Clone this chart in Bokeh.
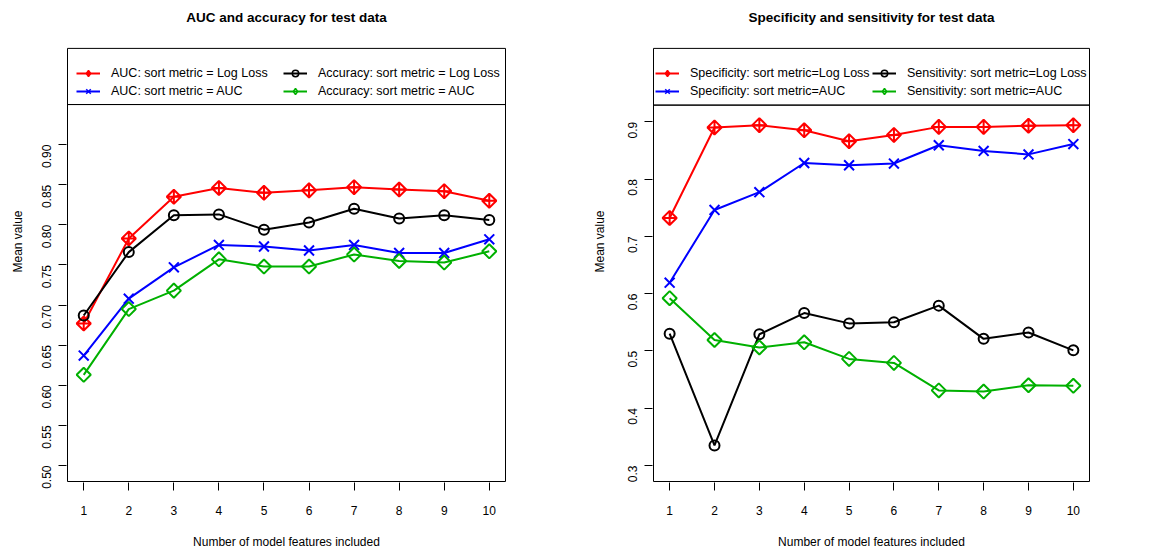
import math
from bokeh.plotting import figure
from bokeh.layouts import row
from bokeh.models import (Range1d, FixedTicker, Legend, LegendItem,
                          NumeralTickFormatter, Label, BoxAnnotation)
from bokeh.embed import file_html
from bokeh.resources import INLINE

# ---- data ----
n_features = [1, 2, 3, 4, 5, 6, 7, 8, 9, 10]

auc_logloss = [0.677, 0.783, 0.835, 0.846, 0.840, 0.843, 0.847, 0.844, 0.842, 0.830]
auc_auc = [0.637, 0.708, 0.747, 0.775, 0.773, 0.768, 0.775, 0.765, 0.765, 0.782]
acc_logloss = [0.687, 0.766, 0.812, 0.813, 0.794, 0.803, 0.820, 0.808, 0.812, 0.806]
acc_auc = [0.613, 0.695, 0.718, 0.757, 0.748, 0.748, 0.763, 0.755, 0.753, 0.767]

spec_logloss = [0.732, 0.890, 0.894, 0.885, 0.866, 0.877, 0.891, 0.891, 0.893, 0.894]
spec_auc = [0.619, 0.746, 0.777, 0.828, 0.824, 0.827, 0.859, 0.849, 0.843, 0.861]
sens_logloss = [0.530, 0.335, 0.529, 0.566, 0.548, 0.550, 0.579, 0.521, 0.532, 0.501]
sens_auc = [0.592, 0.519, 0.506, 0.515, 0.486, 0.479, 0.431, 0.429, 0.440, 0.439]

left_yticks = [0.50, 0.55, 0.60, 0.65, 0.70, 0.75, 0.80, 0.85, 0.90]
right_yticks = [0.3, 0.4, 0.5, 0.6, 0.7, 0.8, 0.9]

left_labels = ["AUC: sort metric = Log Loss", "AUC: sort metric = AUC",
               "Accuracy: sort metric = Log Loss", "Accuracy: sort metric = AUC"]
right_labels = ["Specificity: sort metric=Log Loss", "Specificity: sort metric=AUC",
                "Sensitivity: sort metric=Log Loss", "Sensitivity: sort metric=AUC"]

RED = "#FF0000"
BLUE = "#0000FF"
BLACK = "#000000"
GREEN = "#00B000"
FONT = "Liberation Sans"
NAN = float("nan")

FIG_W, FIG_H = 577, 551
BOX_TOP, BOX_BOTTOM = 48, 482      # canvas px of the plot box
TITLE_Y = 17                        # canvas px of title centre


def make_panel(title, ylo, yhi, yticks, yfmt, sep_y, series, labels,
               box_left, box_right, leg_x1, leg_x2, ylab_standoff):
    xlo, xhi = 0.64, 10.36
    # frame is 1 px larger than the plot box on left/right/bottom and reaches canvas top
    xppu = (box_right - box_left) / (xhi - xlo)
    yppu = (BOX_BOTTOM - BOX_TOP) / (yhi - ylo)
    x_range = Range1d(xlo - 1 / xppu, xhi + 1 / xppu)
    y_range = Range1d(ylo - 1 / yppu, yhi + BOX_TOP / yppu)

    p = figure(width=FIG_W, height=FIG_H, output_backend="svg", toolbar_location=None,
               x_range=x_range, y_range=y_range,
               min_border_left=box_left - 1, min_border_right=FIG_W - box_right - 1,
               min_border_top=0, min_border_bottom=FIG_H - BOX_BOTTOM - 1)
    p.background_fill_color = "white"
    p.border_fill_color = "white"
    p.outline_line_color = None
    p.xgrid.visible = False
    p.ygrid.visible = False

    # plot box
    p.add_layout(BoxAnnotation(left=xlo, right=xhi, bottom=ylo, top=yhi,
                               fill_alpha=0, line_color="black", line_alpha=1, line_width=1))
    # legend separator line
    p.add_layout(BoxAnnotation(left=xlo, right=xhi, bottom=sep_y, top=sep_y,
                               fill_alpha=0, line_color="black", line_alpha=1, line_width=1))

    p.add_layout(Label(x=(xlo + xhi) / 2, y=yhi + (BOX_TOP - TITLE_Y) / yppu,
                       text=title, text_align="center", text_baseline="middle",
                       text_font=FONT, text_font_size="13.5px", text_font_style="bold",
                       text_color="black"))

    for ax in (p.xaxis[0], p.yaxis[0]):
        ax.axis_line_color = None
        ax.major_tick_in = 0
        ax.major_tick_out = 8
        ax.major_tick_line_color = "black"
        ax.minor_tick_line_color = None
        ax.major_label_text_font = FONT
        ax.major_label_text_font_size = "12px"
        ax.major_label_text_color = "black"
        ax.axis_label_text_font = FONT
        ax.axis_label_text_font_size = "12px"
        ax.axis_label_text_font_style = "normal"
        ax.axis_label_text_color = "black"

    p.xaxis.ticker = FixedTicker(ticks=n_features)
    p.xaxis.axis_label = "Number of model features included"
    p.xaxis.major_label_standoff = 15
    p.xaxis.axis_label_standoff = 17

    p.yaxis.ticker = FixedTicker(ticks=yticks)
    p.yaxis.formatter = NumeralTickFormatter(format=yfmt)
    p.yaxis.major_label_orientation = math.pi / 2
    p.yaxis.axis_label = "Mean value"
    p.yaxis.major_label_standoff = 12
    p.yaxis.axis_label_standoff = ylab_standoff

    styles = [
        (RED, "square_x", 10, math.pi / 4, "diamond_cross"),
        (BLUE, "x", 14, 0.0, "x"),
        (BLACK, "circle", 10, 0.0, "circle"),
        (GREEN, "square", 10, math.pi / 4, "diamond"),
    ]
    items = []
    for ys, (col, mk, sz, ang, lmk), lab in zip(series, styles, labels):
        p.line(n_features, ys, line_color=col, line_width=2)
        p.scatter(n_features, ys, marker=mk, size=sz, angle=ang,
                  line_color=col, fill_color=None, line_width=2)
        # legend proxies (NaN data: nothing drawn in the plot area)
        ll = p.line(x=[NAN, NAN], y=[NAN, NAN], line_color=col, line_width=2)
        lm = p.scatter(x=[NAN], y=[NAN], marker=lmk, size=8, line_color=col,
                       fill_color=None, line_width=1.5)
        items.append(LegendItem(label=lab, renderers=[ll, lm]))

    # legend location measured from frame bottom-left
    leg_bottom = (BOX_BOTTOM + 1) - 100
    for cols, lx in ((items[:2], leg_x1), (items[2:], leg_x2)):
        leg = Legend(items=cols, location=(lx - (box_left - 1), leg_bottom),
                     orientation="vertical",
                     padding=0, margin=0, spacing=2,
                     glyph_width=24, glyph_height=16, label_height=16,
                     label_standoff=11, border_line_color=None,
                     background_fill_alpha=0,
                     label_text_font=FONT, label_text_font_size="12.5px",
                     label_text_color="black")
        p.add_layout(leg)
    return p


p1 = make_panel("AUC and accuracy for test data", 0.48, 1.02, left_yticks, "0.00", 0.95,
                [auc_logloss, auc_auc, acc_logloss, acc_auc], left_labels,
                67, 505, 76, 283, 10)
p2 = make_panel("Specificity and sensitivity for test data", 0.272, 1.028, right_yticks, "0.0", 0.929,
                [spec_logloss, spec_auc, sens_logloss, sens_auc], right_labels,
                76, 512, 78, 295, 14)

layout = row(p1, p2)
open("out.html", "w").write(file_html(layout, INLINE))
